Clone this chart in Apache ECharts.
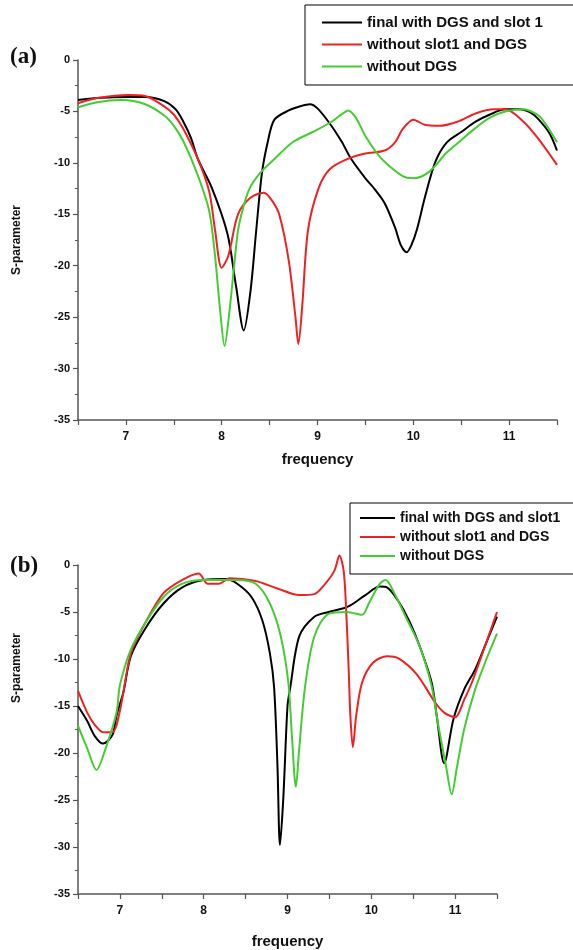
<!DOCTYPE html>
<html>
<head>
<meta charset="utf-8">
<script src="https://cdn.jsdelivr.net/npm/echarts@6/dist/echarts.min.js"></script>
<style>
  html, body { margin: 0; padding: 0; background: #fff; }
  #chart { width: 573px; height: 950px; }
</style>
</head>
<body>
<div id="chart"></div>
<script>
// series names
const namesA = ["final with DGS and slot 1", "without slot1 and DGS", "without DGS"];
const namesB = ["final with DGS and slot1", "without slot1 and DGS", "without DGS"];
const xTicks = [7, 8, 9, 10, 11];

// panel (a): [frequency, S-parameter]
const aFinal = [
  [6.5, -3.9], [6.7, -3.7], [7.03, -3.6], [7.2, -3.6], [7.4, -4.0], [7.52, -4.8],
  [7.6, -6.0], [7.68, -7.6], [7.75, -9.6], [7.9, -12.5], [8.06, -16.9], [8.15, -22.0],
  [8.23, -26.3], [8.3, -22.5], [8.36, -16.6], [8.42, -11.0], [8.48, -8.0], [8.55, -5.8],
  [8.7, -4.9], [8.82, -4.5], [8.92, -4.3], [9.0, -4.7], [9.13, -6.2], [9.25, -7.9],
  [9.35, -9.6], [9.5, -11.5], [9.6, -12.6], [9.7, -13.9], [9.81, -16.3], [9.87, -18.0],
  [9.93, -18.7], [9.98, -18.0], [10.04, -16.4], [10.12, -13.4], [10.23, -9.9],
  [10.35, -8.0], [10.5, -7.0], [10.65, -6.0], [10.8, -5.3], [10.96, -4.8], [11.11, -4.8],
  [11.22, -5.1], [11.3, -5.7], [11.42, -7.1], [11.5, -8.8]
];
const aNoSlot = [
  [6.5, -4.2], [6.7, -3.7], [7.03, -3.4], [7.2, -3.5], [7.4, -4.5], [7.5, -5.3],
  [7.6, -6.7], [7.75, -9.6], [7.87, -12.8], [7.93, -16.5], [8.0, -20.2], [8.07, -19.0],
  [8.17, -15.0], [8.3, -13.4], [8.44, -12.9], [8.52, -13.6], [8.6, -15.0], [8.7, -19.5],
  [8.77, -25.0], [8.8, -27.6], [8.84, -24.0], [8.9, -16.6], [9.01, -12.5], [9.13, -10.6],
  [9.32, -9.6], [9.5, -9.1], [9.7, -8.8], [9.81, -8.0], [9.89, -6.7], [10.0, -5.8],
  [10.12, -6.3], [10.27, -6.4], [10.46, -6.0], [10.65, -5.2], [10.84, -4.8],
  [10.96, -4.8], [11.15, -6.0], [11.3, -7.6], [11.5, -10.2]
];
const aNoDgs = [
  [6.5, -4.6], [6.7, -4.1], [6.95, -3.9], [7.2, -4.3], [7.4, -5.4], [7.5, -6.4],
  [7.6, -7.9], [7.75, -11.2], [7.87, -14.7], [7.93, -19.0], [7.98, -24.0], [8.03, -27.8],
  [8.08, -24.5], [8.13, -20.0], [8.17, -16.6], [8.22, -14.5], [8.29, -12.5],
  [8.4, -11.0], [8.52, -9.9], [8.74, -8.0], [8.95, -7.0], [9.13, -6.1], [9.25, -5.3],
  [9.32, -4.9], [9.4, -5.6], [9.5, -7.4], [9.6, -8.8], [9.7, -9.9], [9.89, -11.3],
  [10.0, -11.5], [10.16, -10.9], [10.35, -9.0], [10.5, -7.8], [10.65, -6.6],
  [10.8, -5.6], [10.96, -5.0], [11.15, -4.8], [11.25, -5.1], [11.34, -5.7], [11.5, -8.0]
];

// panel (b)
const bFinal = [
  [6.5, -15.0], [6.61, -16.6], [6.7, -18.2], [6.8, -19.0], [6.91, -18.1], [6.96, -16.0],
  [7.04, -13.6], [7.13, -9.7], [7.3, -6.8], [7.52, -4.1], [7.74, -2.4], [8.0, -1.6],
  [8.27, -1.5], [8.4, -2.0], [8.57, -3.4], [8.7, -5.9], [8.79, -9.4], [8.84, -13.0],
  [8.88, -21.3], [8.91, -29.8], [8.95, -24.8], [9.0, -15.0], [9.03, -13.2], [9.14, -7.6],
  [9.32, -5.5], [9.49, -5.0], [9.67, -4.6], [9.75, -4.3], [9.93, -3.2], [10.1, -2.3],
  [10.19, -2.4], [10.32, -3.8], [10.45, -5.9], [10.58, -8.7], [10.72, -12.5],
  [10.78, -16.0], [10.87, -21.1], [10.98, -16.4], [11.11, -13.2], [11.24, -11.1],
  [11.37, -8.3], [11.5, -5.5]
];
const bNoSlot = [
  [6.5, -13.4], [6.61, -15.7], [6.7, -17.0], [6.8, -17.8], [6.91, -17.8], [7.0, -15.5],
  [7.13, -9.4], [7.3, -6.2], [7.52, -3.0], [7.74, -1.6], [7.94, -0.9], [8.05, -2.0],
  [8.18, -2.0], [8.31, -1.4], [8.62, -1.7], [8.88, -2.5], [9.14, -3.2], [9.32, -3.1],
  [9.45, -2.0], [9.56, -0.6], [9.62, 1.0], [9.67, -0.6], [9.7, -4.8], [9.73, -11.1],
  [9.75, -16.0], [9.78, -19.4], [9.82, -16.0], [9.89, -12.5], [10.02, -10.4],
  [10.19, -9.7], [10.32, -9.9], [10.54, -11.6], [10.76, -14.6], [10.87, -15.7],
  [11.0, -16.2], [11.11, -14.3], [11.2, -12.5], [11.37, -8.3], [11.5, -5.0]
];
const bNoDgs = [
  [6.5, -17.1], [6.61, -19.5], [6.72, -21.8], [6.83, -19.5], [6.96, -15.7], [7.0, -12.8],
  [7.13, -9.0], [7.3, -6.2], [7.52, -3.4], [7.74, -2.0], [8.0, -1.6], [8.4, -1.6],
  [8.62, -2.0], [8.79, -4.1], [8.92, -7.6], [9.01, -12.5], [9.05, -17.8], [9.1, -23.6],
  [9.14, -19.5], [9.21, -12.9], [9.32, -7.6], [9.49, -5.2], [9.71, -5.0], [9.89, -5.3],
  [9.97, -4.1], [10.1, -2.0], [10.17, -1.6], [10.28, -3.1], [10.41, -5.5],
  [10.58, -8.7], [10.72, -12.9], [10.8, -17.1], [10.89, -21.3], [10.96, -24.4],
  [11.02, -21.6], [11.11, -17.4], [11.24, -13.2], [11.37, -10.1], [11.5, -7.3]
];

const colors = ["#000000", "#ee2222", "#44cc33"];
const labelFont = "Liberation Sans, Arial, sans-serif";

function xAxisFor(gridIndex, gap) {
  return {
    gridIndex: gridIndex,
    type: "value",
    min: 6.5,
    max: 11.5,
    interval: 0.5,
    name: "frequency",
    nameLocation: "middle",
    nameGap: gap,
    nameTextStyle: { fontFamily: labelFont, fontWeight: "bold", fontSize: 15, color: "#111" },
    axisLine: { onZero: false, lineStyle: { color: "#555", width: 1.5 } },
    axisTick: { length: 5, lineStyle: { color: "#555", width: 1.2 } },
    axisLabel: {
      margin: 11,
      fontFamily: labelFont,
      fontWeight: "bold",
      fontSize: 12,
      color: "#111",
      formatter: function (v) {
        return xTicks.indexOf(v) >= 0 ? String(v) : "";
      }
    },
    splitLine: { show: false }
  };
}

function yAxisFor(gridIndex) {
  return {
    gridIndex: gridIndex,
    type: "value",
    min: -35,
    max: 0,
    interval: 5,
    axisLine: { show: true, onZero: false, lineStyle: { color: "#555", width: 1.5 } },
    axisTick: { show: true, length: 5, lineStyle: { color: "#555", width: 1.2 } },
    minorTick: { show: true, splitNumber: 2, length: 3, lineStyle: { color: "#555", width: 1 } },
    axisLabel: { margin: 8, fontFamily: labelFont, fontWeight: "bold", fontSize: 11, color: "#111" },
    splitLine: { show: false }
  };
}

function lineSeries(name, data, color, axisIndex) {
  return {
    name: name,
    type: "line",
    xAxisIndex: axisIndex,
    yAxisIndex: axisIndex,
    data: data,
    symbol: "none",
    smooth: 0.3,
    clip: false,
    lineStyle: { color: color, width: 2 },
    itemStyle: { color: color }
  };
}

var thisChart = echarts.init(document.getElementById("chart"));
thisChart.setOption({
  backgroundColor: "#fff",
  animation: false,
  grid: [
    { left: 78, top: 60, width: 479, height: 360 },
    { left: 78, top: 565, width: 419, height: 332 }
  ],
  xAxis: [xAxisFor(0, 32), xAxisFor(1, 40)],
  yAxis: [yAxisFor(0), yAxisFor(1)],
  legend: [
    {
      data: namesA,
      orient: "vertical",
      left: 305,
      top: 5,
      icon: "rect",
      itemWidth: 40,
      itemHeight: 2,
      itemGap: 7,
      padding: [10, 60, 11, 17],
      borderColor: "#000",
      borderWidth: 1,
      textStyle: { fontFamily: labelFont, fontWeight: "bold", fontSize: 15, color: "#111" }
    },
    {
      data: namesB,
      orient: "vertical",
      left: 350,
      top: 503,
      icon: "rect",
      itemWidth: 35,
      itemHeight: 2,
      itemGap: 5,
      padding: [8, 60, 11, 10],
      borderColor: "#000",
      borderWidth: 1,
      textStyle: { fontFamily: labelFont, fontWeight: "bold", fontSize: 14, color: "#111" }
    }
  ],
  graphic: [
    { type: "text", left: 10, top: 46, style: { text: "(a)", font: "bold 23px 'Liberation Serif', 'Times New Roman', serif", fill: "#111" } },
    { type: "text", left: 10, top: 555, style: { text: "(b)", font: "bold 23px 'Liberation Serif', 'Times New Roman', serif", fill: "#111" } },
    { type: "text", x: 17, y: 240, rotation: Math.PI / 2, style: { text: "S-parameter", font: "bold 12px 'Liberation Sans Narrow', 'Liberation Sans', sans-serif", fill: "#111", align: "center", verticalAlign: "middle" } },
    { type: "text", x: 17, y: 668, rotation: Math.PI / 2, style: { text: "S-parameter", font: "bold 12px 'Liberation Sans Narrow', 'Liberation Sans', sans-serif", fill: "#111", align: "center", verticalAlign: "middle" } }
  ],
  series: [
    lineSeries(namesA[0], aFinal, colors[0], 0),
    lineSeries(namesA[1], aNoSlot, colors[1], 0),
    lineSeries(namesA[2], aNoDgs, colors[2], 0),
    lineSeries(namesB[0], bFinal, colors[0], 1),
    lineSeries(namesB[1], bNoSlot, colors[1], 1),
    lineSeries(namesB[2], bNoDgs, colors[2], 1)
  ]
});
</script>
</body>
</html>
